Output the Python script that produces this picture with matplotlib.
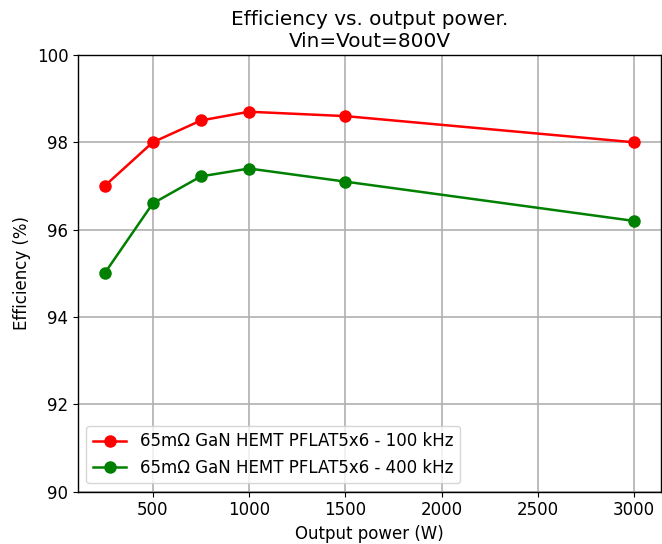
import matplotlib
matplotlib.use("Agg")
import matplotlib.pyplot as plt

power = [250, 500, 750, 1000, 1500, 3000]
eff_100k = [97.0, 98.0, 98.5, 98.7, 98.6, 98.0]
eff_400k = [95.0, 96.6, 97.22, 97.4, 97.1, 96.2]

plt.rcParams["font.size"] = 12
plt.rcParams["axes.linewidth"] = 1.0

fig, ax = plt.subplots(figsize=(6.62, 5.44), dpi=100)
ax.plot(power, eff_100k, "o-", c="red", lw=1.8, markersize=8, label="65m\u03a9 GaN HEMT PFLAT5x6 - 100 kHz")
ax.plot(power, eff_400k, "o-", c="green", lw=1.8, markersize=8, label="65m\u03a9 GaN HEMT PFLAT5x6 - 400 kHz")
ax.set_ylim(90, 100)
ax.set_title("Efficiency vs. output power.\nVin=Vout=800V")
ax.set_xlabel("Output power (W)")
ax.set_ylabel("Efficiency (%)")
ax.grid(True, linewidth=1.2)
ax.legend(loc="lower left")
fig.subplots_adjust(left=0.118, right=0.998, top=0.899, bottom=0.096)
fig.savefig("out.png")
